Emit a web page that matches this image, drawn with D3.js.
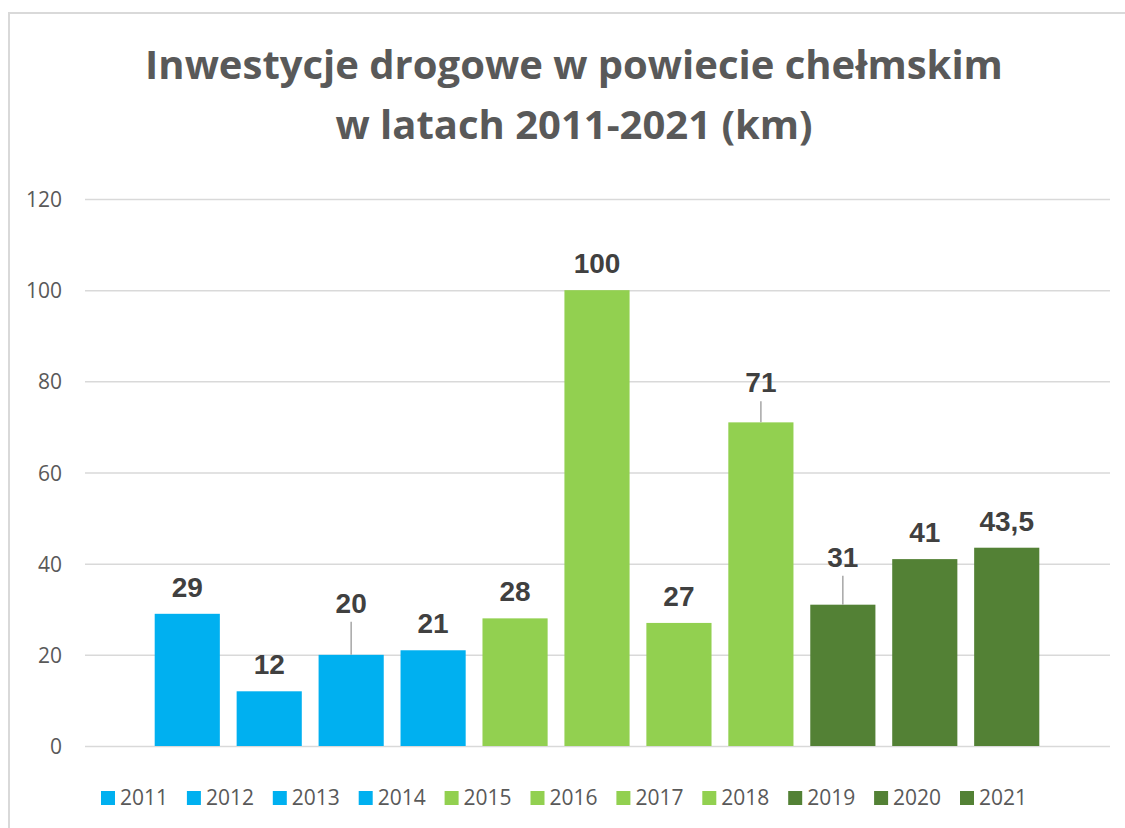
<!DOCTYPE html>
<html>
	<head>
		<title>Inwestycje drogowe w powiecie chełmskim</title>
		<script src="https://d3js.org/d3.v7.min.js"></script>

		<style>
			body { margin: 0; background: white; }
			text { font-family: "Open Sans", sans-serif; }
			.grid line { stroke: #d9d9d9; stroke-width: 1.5; }
			.grid path { display: none; }
			.grid text { fill: #595959; font-size: 21px; }
			text.value { font-family: "Liberation Sans", Arial, sans-serif; font-weight: bold; font-size: 28px; fill: #404040; }
		</style>
	</head>

	<body>

		<svg width="1125" height="828"></svg>

		<script type="text/javascript">
			var years = ['2011', '2012', '2013', '2014', '2015', '2016', '2017', '2018', '2019', '2020', '2021'];
			var km = [29, 12, 20, 21, 28, 100, 27, 71, 31, 41, 43.5];
			var groups = ['a', 'a', 'a', 'a', 'b', 'b', 'b', 'b', 'c', 'c', 'c'];
			var yTicks = [0, 20, 40, 60, 80, 100, 120];
			// labels pulled up by hand in the original, with a leader line
			var labelLift = [0, 0, 25, 0, 0, 0, 0, 13, 21, 0, 0];

			var groupColor = { a: '#00b0f0', b: '#92d050', c: '#538135' };

			var svg = d3.select('svg');

			// chart area border
			svg.append('path')
			  .attr('d', 'M9,828 V13 H1125')
			  .attr('fill', 'none')
			  .attr('stroke', '#d9d9d9')
			  .attr('stroke-width', 2);

			// title
			var title = svg.append('text')
			  .attr('text-anchor', 'middle')
			  .attr('fill', '#595959')
			  .attr('font-weight', 'bold')
			  .attr('font-size', '40px');
			title.append('tspan').attr('x', 574).attr('y', 79).text('Inwestycje drogowe w powiecie chełmskim');
			title.append('tspan').attr('x', 574).attr('y', 139).text('w latach 2011-2021 (km)');

			var y = d3.scaleLinear()
			  .domain([0, 120])
			  .range([746, 199]);

			var x = d3.scaleBand()
			  .domain(years)
			  .range([146.5, 1047.5])
			  .paddingInner(0.205)
			  .paddingOuter(0.1);

			svg.append('g')
			  .attr('class', 'grid')
			  .attr('transform', 'translate(85,0)')
			  .call(d3.axisLeft(y)
			    .tickValues(yTicks)
			    .tickSize(-1025)
			    .tickPadding(23))
			  .call(function(g) { g.selectAll('text').attr('dy', '0.36em'); });

			var bars = svg.append('g')
			  .selectAll('g')
			  .data(years)
			  .enter()
			  .append('g');

			bars.append('rect')
			  .attr('x', function(d) { return x(d); })
			  .attr('width', x.bandwidth())
			  .attr('y', function(d, i) { return y(km[i]); })
			  .attr('height', function(d, i) { return y(0) - y(km[i]); })
			  .attr('fill', function(d, i) { return groupColor[groups[i]]; });

			bars.filter(function(d, i) { return labelLift[i] > 0; })
			  .append('line')
			  .attr('x1', function(d) { return x(d) + x.bandwidth() / 2; })
			  .attr('x2', function(d) { return x(d) + x.bandwidth() / 2; })
			  .attr('y1', function(d) { var i = years.indexOf(d); return y(km[i]) - 17 - labelLift[i] + 9; })
			  .attr('y2', function(d) { return y(km[years.indexOf(d)]); })
			  .attr('stroke', '#a6a6a6')
			  .attr('stroke-width', 1.5);

			bars.append('text')
			  .attr('class', 'value')
			  .attr('x', function(d) { return x(d) + x.bandwidth() / 2; })
			  .attr('y', function(d, i) { return y(km[i]) - 17 - labelLift[i]; })
			  .attr('text-anchor', 'middle')
			  .text(function(d, i) { return String(km[i]).replace('.', ','); });

			// legend
			var legend = svg.append('g')
			  .selectAll('g')
			  .data(years)
			  .enter()
			  .append('g')
			  .attr('transform', function(d, i) { return 'translate(' + (101 + i * 85.9) + ',791)'; });

			legend.append('rect')
			  .attr('width', 14)
			  .attr('height', 14)
			  .attr('fill', function(d, i) { return groupColor[groups[i]]; });

			legend.append('text')
			  .attr('x', 19)
			  .attr('y', 14)
			  .attr('fill', '#595959')
			  .attr('font-size', '21px')
			  .text(function(d) { return d; });
		</script>

	</body>
</html>
